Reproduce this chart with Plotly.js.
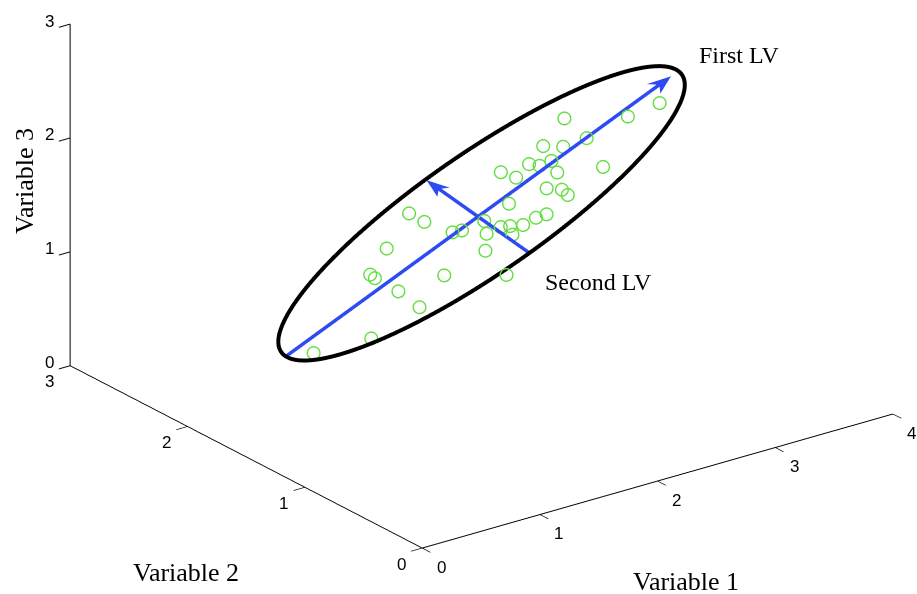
<!DOCTYPE html>
<html>
<head>
<meta charset="utf-8">
<script src="https://cdn.plot.ly/plotly-3.0.1.min.js"></script>
<style>
  html, body { margin: 0; padding: 0; background: #ffffff; }
  #chart { width: 917px; height: 594px; }
</style>
</head>
<body>
<div id="chart"></div>
<script>
// Observations: three measured variables
const variable1 = [2.88, 3.20, 3.42, 2.89, 2.64, 2.73, 2.48, 2.60, 2.52, 2.82,
                   2.57, 2.30, 2.35, 2.44, 2.51, 2.51, 2.18, 1.65, 1.68, 1.97,
                   2.24, 2.31, 2.14, 2.07, 2.02, 2.04, 1.92, 1.82, 1.76, 1.83,
                   1.36, 1.15, 1.15, 1.50, 1.81, 1.20, 1.22, 0.83, 0.48];
const variable2 = [1.68, 1.46, 1.41, 1.50, 1.62, 1.54, 1.58, 1.51, 1.53, 1.29,
                   1.43, 1.64, 1.56, 1.39, 1.33, 1.28, 1.45, 1.77, 1.67, 1.45,
                   1.28, 1.26, 1.29, 1.33, 1.36, 1.28, 1.38, 1.49, 1.51, 1.30,
                   1.67, 1.60, 1.56, 1.32, 1.10, 1.41, 1.25, 1.27, 1.41];
const variable3 = [2.03, 2.07, 2.15, 1.95, 1.89, 1.90, 1.80, 1.83, 1.80, 1.83,
                   1.78, 1.75, 1.73, 1.70, 1.70, 1.68, 1.61, 1.51, 1.48, 1.52,
                   1.56, 1.58, 1.52, 1.51, 1.50, 1.47, 1.46, 1.46, 1.45, 1.38,
                   1.34, 1.21, 1.20, 1.25, 1.28, 1.15, 1.09, 0.92, 0.82];

// Confidence ellipse: centre and semi-axis vectors
const ellipseCenter = [2.00, 1.50, 1.55];
const ellipseMajor  = [1.67, 0.00, 0.76];
const ellipseMinor  = [-0.064, 0.378, 0.14];

// Latent variables: origin and direction vectors
const lvOrigin = [1.97, 1.50, 1.53];
const firstLV  = [1.64, 0.00, 0.75];
const secondLV = [-0.064, 0.375, 0.139];

// Axis ranges and ticks
const range1 = [0, 4], range2 = [0, 3], range3 = [0, 3];
const ticks1 = [0, 1, 2, 3, 4];
const ticks2 = [0, 1, 2, 3];
const ticks3 = [0, 1, 2, 3];

const BLUE = '#2d4bf0';
const GREEN = '#62de42';

const add = (a, b, s) => a.map((v, i) => v + s * b[i]);

// ellipse outline
const ex = [], ey = [], ez = [];
for (let k = 0; k <= 240; k++) {
  const t = 2 * Math.PI * k / 240;
  const p = add(add(ellipseCenter, ellipseMajor, Math.cos(t)), ellipseMinor, Math.sin(t));
  ex.push(p[0]); ey.push(p[1]); ez.push(p[2]);
}

// arrow shaft + flat arrowhead lying in the ellipse plane
function arrow(origin, dir, side, headLen, headHalf, notch) {
  const tip = add(origin, dir, 1);
  const start = add(origin, dir, -1);
  const back = add(tip, dir, -headLen);
  const c1 = add(back, side, headHalf);
  const c2 = add(back, side, -headHalf);
  const n = add(tip, dir, -notch);
  const shaft = {
    type: 'scatter3d', mode: 'lines',
    x: [start[0], n[0]], y: [start[1], n[1]], z: [start[2], n[2]],
    line: { color: BLUE, width: 7 }, hoverinfo: 'skip', showlegend: false
  };
  const head = {
    type: 'mesh3d',
    x: [tip[0], c1[0], n[0], c2[0]],
    y: [tip[1], c1[1], n[1], c2[1]],
    z: [tip[2], c1[2], n[2], c2[2]],
    i: [0, 0], j: [1, 2], k: [2, 3],
    color: BLUE, flatshading: true,
    lighting: { ambient: 1, diffuse: 0, specular: 0, fresnel: 0, roughness: 1 },
    hoverinfo: 'skip', showscale: false, showlegend: false
  };
  return [shaft, head];
}

const traces = [
  {
    type: 'scatter3d', mode: 'lines',
    x: ex, y: ey, z: ez,
    line: { color: '#000000', width: 8 },
    hoverinfo: 'skip', showlegend: false
  },
  ...arrow(lvOrigin, firstLV, secondLV, 0.09, 0.13, 0.06),
  ...arrow(lvOrigin, secondLV, firstLV, 0.33, 0.032, 0.24),
  {
    type: 'scatter3d', mode: 'markers',
    x: variable1, y: variable2, z: variable3,
    marker: { symbol: 'circle-open', size: 8, color: GREEN },
    hoverinfo: 'skip', showlegend: false
  }
];

const axisStyle = (range, vals) => ({
  range: range, tickvals: vals, showticklabels: false,
  showgrid: false, zeroline: false, showbackground: false,
  showline: true, linecolor: '#000000', linewidth: 2,
  ticks: 'outside', ticklen: 14, tickwidth: 2, tickcolor: '#000000',
  showspikes: false, title: { text: '' }
});

// upright tick labels placed at each tick position
const tickFont = { family: 'Liberation Sans, Arial, sans-serif', size: 17, color: '#000000' };
const tickLabel = (x, y, z, text, dx, dy) => ({
  x: x, y: y, z: z, text: text, showarrow: false,
  xanchor: 'center', yanchor: 'middle', xshift: dx, yshift: dy, font: tickFont
});
const sceneLabels = [].concat(
  ticks1.map(v => tickLabel(v, range2[0], range3[0], String(v), 19, -19)),
  ticks2.map(v => tickLabel(range1[0], v, range3[0], String(v), -21, -16)),
  ticks3.map(v => tickLabel(range1[0], range2[1], v, String(v), -21, 3))
);

const W = 917, H = 594;
const serif = (size) => ({ family: 'Liberation Serif, Times New Roman, serif', size: size, color: '#000000' });
const label = (text, px, py, size, extra) => Object.assign({
  text: text, xref: 'paper', yref: 'paper', x: px / W, y: 1 - py / H,
  xanchor: 'center', yanchor: 'middle', showarrow: false, font: serif(size)
}, extra || {});

const layout = {
  width: W, height: H,
  margin: { l: 0, r: 0, t: 0, b: 0 },
  paper_bgcolor: '#ffffff',
  showlegend: false,
  hovermode: false,
  scene: {
    domain: { x: [0, 1], y: [0, 1] },
    aspectmode: 'manual',
    aspectratio: { x: 1.973, y: 1.99, z: 1.246 },
    camera: {
      projection: { type: 'orthographic' },
      up: { x: 0, y: 0, z: 1 },
      center: { x: -0.0966, y: 0, z: -0.2604 },
      eye: { x: -1.197, y: -1.484, z: 0.508 }
    },
    xaxis: axisStyle(range1, ticks1),
    yaxis: axisStyle(range2, ticks2),
    zaxis: axisStyle(range3, ticks3),
    annotations: sceneLabels
  },
  annotations: [
    label('Variable 1', 686, 581, 26),
    label('Variable 2', 186, 572, 26),
    label('Variable 3', 24, 181, 26, { textangle: -90 }),
    label('First LV', 739, 55, 24),
    label('Second LV', 598, 282, 24)
  ]
};

Plotly.newPlot('chart', traces, layout, { displayModeBar: false });
</script>
</body>
</html>
